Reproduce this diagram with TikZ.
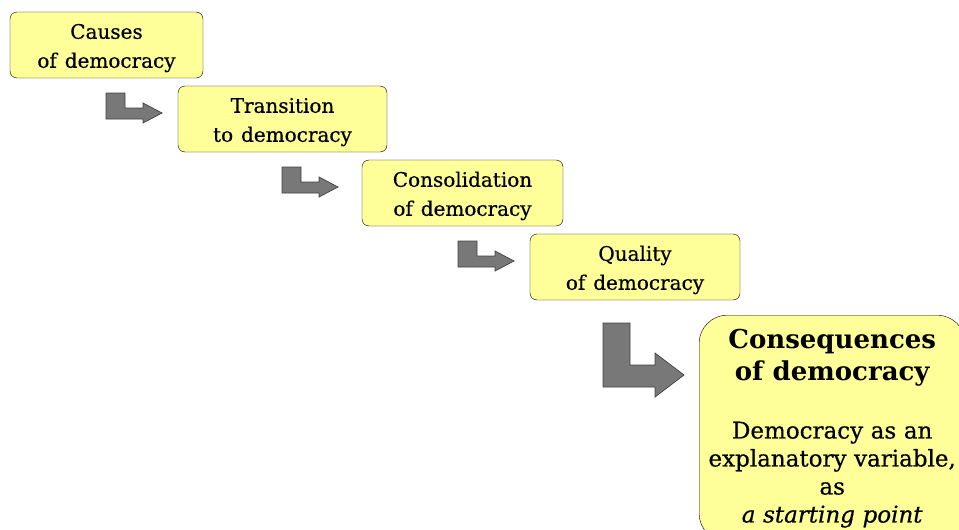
\documentclass[tikz,border=0pt]{standalone}
\usepackage{fontspec}
\setmainfont{DejaVu Serif}[FakeBold=0.6, WordSpace=1.25]
\newfontfamily\titlefont{DejaVu Serif}[WordSpace=1.25]
\usetikzlibrary{positioning}

\definecolor{boxyellow}{RGB}{255,255,153}
\definecolor{arrowgray}{RGB}{120,120,120}

\tikzset{
  stage/.style={draw=black, fill=boxyellow, rounded corners=7pt, align=center,
    minimum height=66pt, inner sep=0pt, text height=50pt, font=\fontsize{20}{29}\selectfont},
  bigstage/.style={draw=black, fill=boxyellow, rounded corners=28pt, align=center,
    text width=262pt, inner xsep=2pt, inner ysep=14pt},
  blockarrow/.style={draw=black!75, fill=arrowgray, line width=0.7pt}
}

\begin{document}
\begin{tikzpicture}[x=1pt,y=-1pt]
\useasboundingbox (0,0) rectangle (959,530);

% les etapes
\node[stage, minimum width=193pt] (causes) at (106.5,45) {Causes\\of democracy};
\node[stage, minimum width=209pt] (transition) at (282.5,119) {Transition\\to democracy};
\node[stage, minimum width=201pt] (consolidation) at (462.5,193) {Consolidation\\of democracy};
\node[stage, minimum width=210pt] (quality) at (635,267) {Quality\\of democracy};

% les petites fleches
\foreach \i in {0,1,2}
  \draw[blockarrow, shift={(106+176*\i,93+74*\i)}] (0,0) -- (19,0) -- (19,15) -- (37,15)
    -- (37,10) -- (56,20) -- (37,30) -- (37,26) -- (0,26) -- cycle;

% la grande fleche
\draw[blockarrow, shift={(603,323)}] (0,0) -- (27,0) -- (27,42) -- (52,42) -- (52,30)
  -- (81,52) -- (52,74) -- (52,64) -- (0,64) -- cycle;

\node[bigstage, anchor=north west] (consequences) at (699,315) {%
  {\titlefont\fontsize{26}{32}\selectfont\spaceskip=.36em\bfseries Consequences\\of democracy\par}\vspace{30pt}
  {\fontsize{23}{28}\selectfont\spaceskip=.33em Democracy as an\\explanatory variable,\\as\\\textit{a starting point}\par}};

\end{tikzpicture}
\end{document}
